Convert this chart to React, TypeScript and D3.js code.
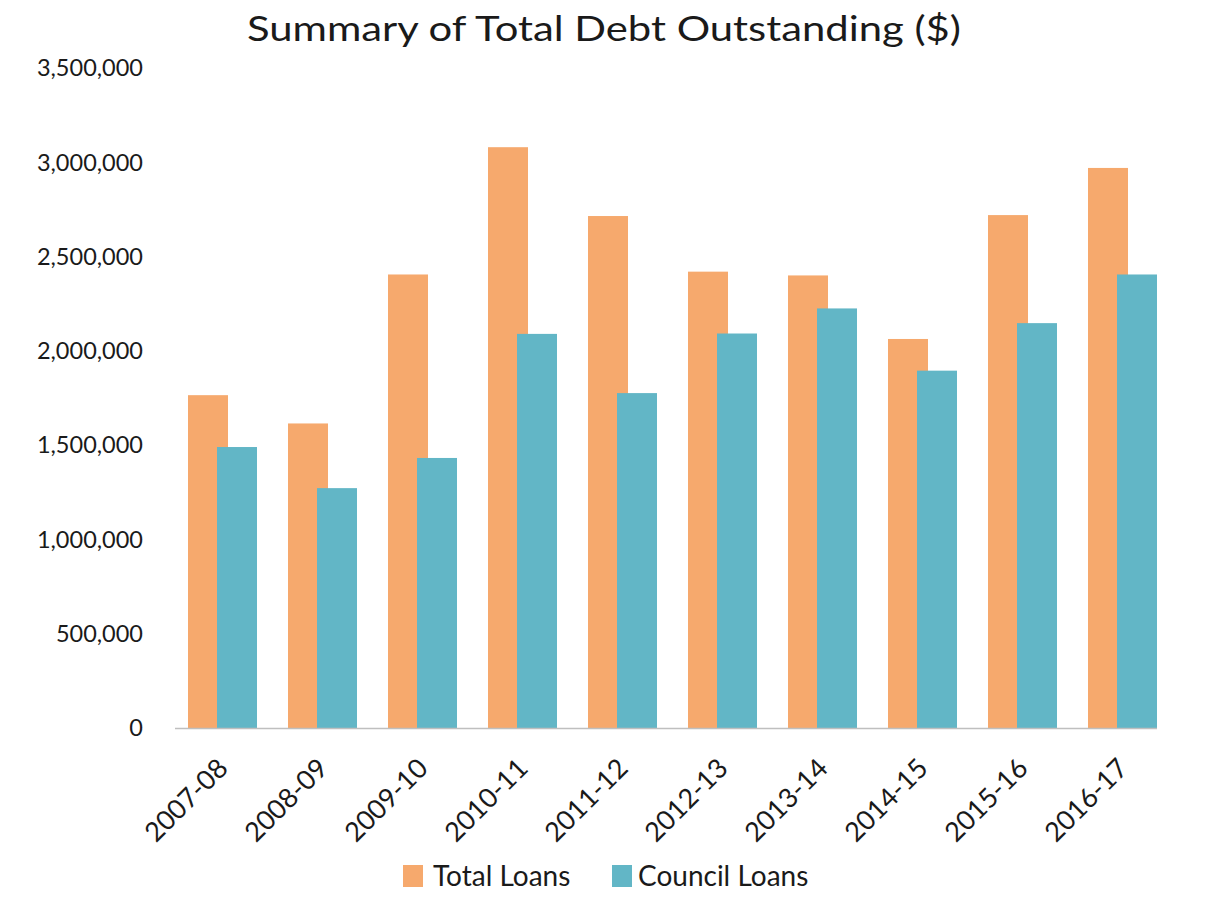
import React from "react";
import * as d3 from "d3";

const categories = ["2007-08", "2008-09", "2009-10", "2010-11", "2011-12", "2012-13", "2013-14", "2014-15", "2015-16", "2016-17"];
const totalLoans = [1765000, 1615000, 2405000, 3080000, 2715000, 2420000, 2400000, 2063000, 2720000, 2970000];
const councilLoans = [1490000, 1272000, 1432000, 2090000, 1776000, 2092000, 2225000, 1895000, 2147000, 2405000];
const yTicks = [0, 500000, 1000000, 1500000, 2000000, 2500000, 3000000, 3500000];
const seriesNames = ["Total Loans", "Council Loans"];

const W = 1222;
const H = 899;
const FONT = "Lato, 'Open Sans', sans-serif";
const ORANGE = "#F6A96D";
const TEAL = "#62B6C6";

export default function App() {
  const x = d3.scaleBand<string>().domain(categories).range([172.5, 1172.5]).padding(0);
  const y = d3.scaleLinear().domain([0, 3500000]).range([728, 68]);
  const fmt = d3.format(",");
  const barW = 40;
  const overlap = 11;

  return (
    <svg width={W} height={H} style={{ position: "absolute", left: 0, top: 0, background: "#fff" }} fontFamily={FONT}>
      <text x={247} y={41} fontSize={34} fill="#1a1a1a" textLength={714} lengthAdjust="spacingAndGlyphs">
        Summary of Total Debt Outstanding ($)
      </text>
      {yTicks.map((t) => (
        <text key={t} x={143} y={y(t)} dy="0.35em" textAnchor="end" fontSize={23.5} fill="#1a1a1a">
          {fmt(t)}
        </text>
      ))}
      {categories.map((c, i) => {
        const cx = (x(c) as number) + x.bandwidth() / 2;
        const left = cx - (2 * barW - overlap) / 2;
        return (
          <g key={c}>
            <rect x={left} y={y(totalLoans[i])} width={barW} height={y(0) - y(totalLoans[i])} fill={ORANGE} />
            <rect x={left + barW - overlap} y={y(councilLoans[i])} width={barW} height={y(0) - y(councilLoans[i])} fill={TEAL} />
          </g>
        );
      })}
      <line x1={175} x2={1157} y1={y(0) + 0.5} y2={y(0) + 0.5} stroke="#bfbfbf" strokeWidth={1.5} />
      {categories.map((c) => {
        const cx = (x(c) as number) + x.bandwidth() / 2;
        return (
          <text key={c} transform={`translate(${cx + 7},${770}) rotate(-45)`} textAnchor="end" fontSize={27} fill="#1a1a1a">
            {c}
          </text>
        );
      })}
      <g>
        <rect x={403} y={865} width={20} height={22} fill={ORANGE} />
        <text x={433} y={886} fontSize={28} fill="#1a1a1a">{seriesNames[0]}</text>
        <rect x={612} y={865} width={20} height={22} fill={TEAL} />
        <text x={638} y={886} fontSize={28} fill="#1a1a1a">{seriesNames[1]}</text>
      </g>
    </svg>
  );
}
